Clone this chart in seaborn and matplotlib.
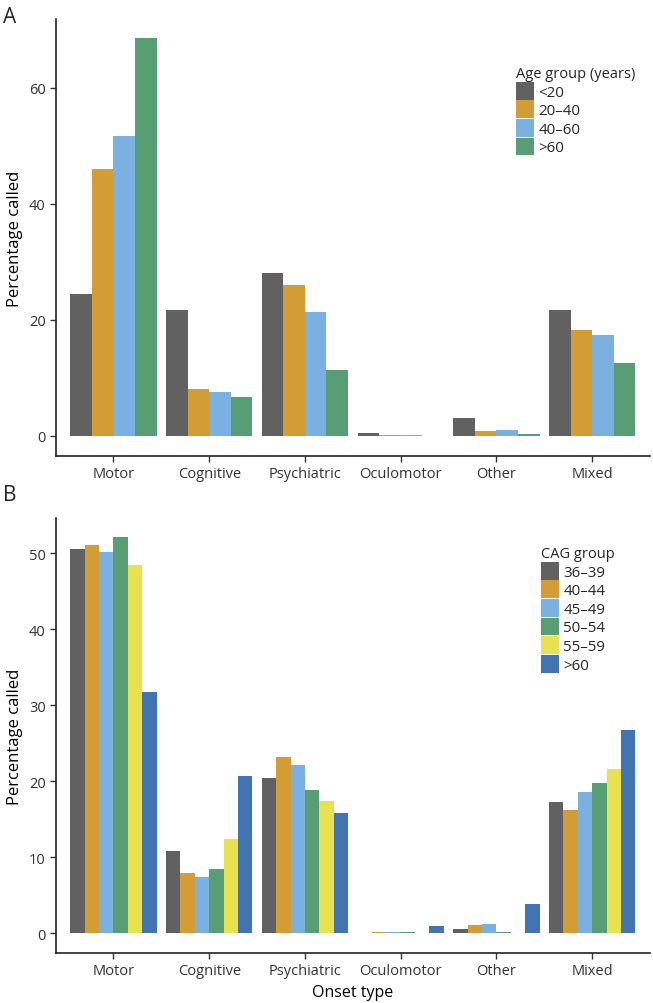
import matplotlib
matplotlib.use("Agg")
import matplotlib.pyplot as plt
import pandas as pd
import seaborn as sns

onset_types = ["Motor", "Cognitive", "Psychiatric", "Oculomotor", "Other", "Mixed"]

# Panel A: percentage by age group
age_groups = ["<20", "20–40", "40–60", ">60"]
age_lt20 = [24.4, 21.6, 28.0, 0.5, 3.1, 21.6]
age_20_40 = [45.9, 8.0, 26.0, 0.2, 0.9, 18.2]
age_40_60 = [51.7, 7.5, 21.4, 0.15, 1.0, 17.3]
age_gt60 = [68.5, 6.6, 11.4, 0.0, 0.3, 12.6]

# Panel B: percentage by CAG group
cag_groups = ["36–39", "40–44", "45–49", "50–54", "55–59", ">60"]
cag_36_39 = [50.6, 10.9, 20.5, 0.0, 0.6, 17.3]
cag_40_44 = [51.1, 7.9, 23.2, 0.15, 1.05, 16.2]
cag_45_49 = [50.2, 7.4, 22.1, 0.15, 1.2, 18.6]
cag_50_54 = [52.1, 8.5, 18.8, 0.2, 0.2, 19.8]
cag_55_59 = [48.4, 12.4, 17.4, 0.0, 0.0, 21.6]
cag_gt60 = [31.7, 20.7, 15.8, 1.0, 3.9, 26.7]

colors = ["#616161", "#d49c35", "#7bb1e0", "#589e74", "#e9e250", "#4174b0"]


def long_frame(groups, series):
    rows = []
    for g, vals in zip(groups, series):
        for o, v in zip(onset_types, vals):
            rows.append({"onset": o, "group": g, "pct": v})
    return pd.DataFrame(rows)


df_a = long_frame(age_groups, [age_lt20, age_20_40, age_40_60, age_gt60])
df_b = long_frame(cag_groups, [cag_36_39, cag_40_44, cag_45_49, cag_50_54, cag_55_59, cag_gt60])

sns.set_theme(style="ticks")
plt.rcParams["font.family"] = ["Open Sans", "DejaVu Sans"]
TXT = "#333333"

fig = plt.figure(figsize=(6.53, 10.04), dpi=100)
ax_a = fig.add_axes([0.0858, 0.545, 0.909, 0.435])
ax_b = fig.add_axes([0.0858, 0.050, 0.909, 0.433])


def draw(ax, df, groups, title, ylim, yticks, legend_anchor):
    sns.barplot(data=df, x="onset", y="pct", hue="group", order=onset_types,
                hue_order=groups, palette=colors[:len(groups)], width=0.9,
                gap=0, linewidth=0, saturation=1, ax=ax)
    ax.set_xlim(-0.6, 5.6)
    ax.set_ylim(*ylim)
    ax.set_yticks(yticks)
    ax.set_ylabel("Percentage called", fontsize=12, color="black")
    ax.set_xlabel("")
    for s in ["top", "right"]:
        ax.spines[s].set_visible(False)
    for s in ["left", "bottom"]:
        ax.spines[s].set_color("#222222")
        ax.spines[s].set_linewidth(1.2)
    ax.tick_params(axis="both", labelsize=10.5, labelcolor=TXT, color="#333333",
                   length=4, width=1)
    handles, labels = ax.get_legend_handles_labels()
    ax.legend(handles, labels, title=title, loc="upper left",
              bbox_to_anchor=legend_anchor, bbox_transform=fig.transFigure,
              frameon=False, fontsize=10.8, title_fontsize=10.5,
              handlelength=1.2, handleheight=1.45, labelspacing=0.05,
              handletextpad=0.3, borderaxespad=0, borderpad=0,
              alignment="left")


draw(ax_a, df_a, age_groups, "Age group (years)", (-3.45, 71.8), [0, 20, 40, 60],
     (516 / 653, 1 - 67 / 1004))
draw(ax_b, df_b, cag_groups, "CAG group", (-2.54, 54.6), [0, 10, 20, 30, 40, 50],
     (541 / 653, 1 - 547 / 1004))
ax_b.set_xlabel("Onset type", fontsize=11.5, color="black")

fig.text(0.004, 0.993, "A", fontsize=15, va="top", ha="left")
fig.text(0.004, 0.517, "B", fontsize=15, va="top", ha="left")

fig.savefig("out.png", dpi=100)
